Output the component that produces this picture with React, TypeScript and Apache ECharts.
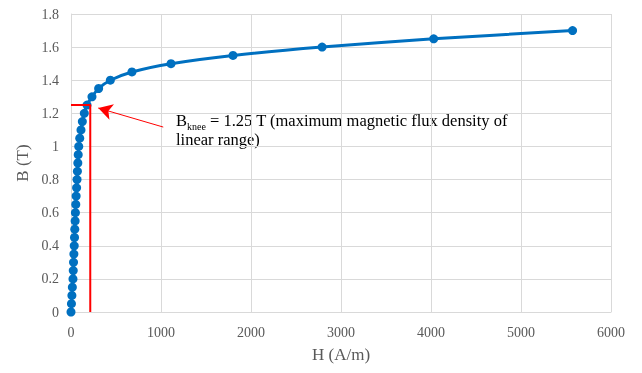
import React, { useEffect, useRef } from "react";
import * as echarts from "echarts";

const fluxB = [0, 0.05, 0.1, 0.15, 0.2, 0.25, 0.3, 0.35, 0.4, 0.45, 0.5, 0.55, 0.6, 0.65, 0.7, 0.75, 0.8, 0.85, 0.9, 0.95, 1.0, 1.05, 1.1, 1.15, 1.2, 1.25, 1.3, 1.35, 1.4, 1.45, 1.5, 1.55, 1.6, 1.65, 1.7];
const fieldH = [0, 5, 10, 15, 22, 25, 28, 32, 36, 39, 42, 46, 49, 53, 57, 62, 67, 71, 76, 80, 86, 97, 111, 126, 148, 178, 233, 307, 437, 677, 1111, 1800, 2790, 4030, 5573];
const kneeB = 1.25;
const kneeH = 214;
const arrowFrom = [1025, 1.117];
const arrowTo = [303, 1.232];

export default function App() {
  const ref = useRef<HTMLDivElement>(null);
  useEffect(() => {
    if (!ref.current) return;
    const chart = echarts.init(ref.current, null, { renderer: "svg" });
    const serif = "'Liberation Serif', 'Times New Roman', serif";
    const gray = "#595959";
    chart.setOption({
      animation: false,
      grid: { left: 71, right: 31, top: 14, bottom: 61 },
      xAxis: {
        type: "value",
        min: 0,
        max: 6000,
        interval: 1000,
        name: "H (A/m)",
        nameLocation: "middle",
        nameGap: 34,
        nameTextStyle: { fontFamily: serif, fontSize: 17, color: gray },
        axisLine: { show: true, lineStyle: { color: "#d9d9d9" } },
        axisTick: { show: false },
        axisLabel: { fontFamily: serif, fontSize: 14, color: gray, margin: 13, formatter: (v: number) => String(v) },
        splitLine: { show: true, lineStyle: { color: "#d9d9d9" } },
      },
      yAxis: {
        type: "value",
        min: 0,
        max: 1.8,
        interval: 0.2,
        name: "B (T)",
        nameLocation: "middle",
        nameGap: 40,
        nameTextStyle: { fontFamily: serif, fontSize: 17, color: gray },
        axisLine: { show: true, lineStyle: { color: "#d9d9d9" } },
        axisTick: { show: false },
        axisLabel: {
          fontFamily: serif,
          fontSize: 14,
          color: gray,
          margin: 12,
          formatter: (v: number) => String(Math.round(v * 10) / 10),
        },
        splitLine: { show: true, lineStyle: { color: "#d9d9d9" } },
      },
      series: [
        {
          type: "line",
          data: fieldH.map((h, i) => [h, fluxB[i]]),
          smooth: 0.3,
          symbol: "circle",
          symbolSize: 9,
          itemStyle: { color: "#0070c0" },
          lineStyle: { color: "#0070c0", width: 3 },
          z: 3,
        },
        {
          type: "line",
          data: [
            [0, kneeB],
            [kneeH, kneeB],
            [kneeH, 0],
          ],
          symbol: "none",
          lineStyle: { color: "#ff0000", width: 2 },
          z: 4,
          markLine: {
            silent: true,
            symbol: ["none", "arrow"],
            symbolSize: [12, 14],
            label: { show: false },
            lineStyle: { color: "#ff0000", width: 1, type: "solid" },
            data: [
              [
                { coord: arrowFrom, symbol: "none" },
                { coord: arrowTo, symbol: "arrow" },
              ],
            ],
          },
        },
      ],
      graphic: [
        {
          type: "text",
          left: 176,
          top: 112,
          style: {
            text: "{b|B}{s|knee}{b| = 1.25 T (maximum magnetic flux density of}\n{b|linear range)}",
            fill: "#000",
            rich: {
              b: { fontFamily: serif, fontSize: 16.5, lineHeight: 19, verticalAlign: "bottom", fill: "#000" },
              s: { fontFamily: serif, fontSize: 10, lineHeight: 19, verticalAlign: "bottom", fill: "#000", padding: [0, 0, -2, 0] },
            },
          },
        },
      ],
    });
    return () => chart.dispose();
  }, []);
  return <div ref={ref} style={{ position: "fixed", left: 0, top: 0, width: 642, height: 373 }} />;
}
